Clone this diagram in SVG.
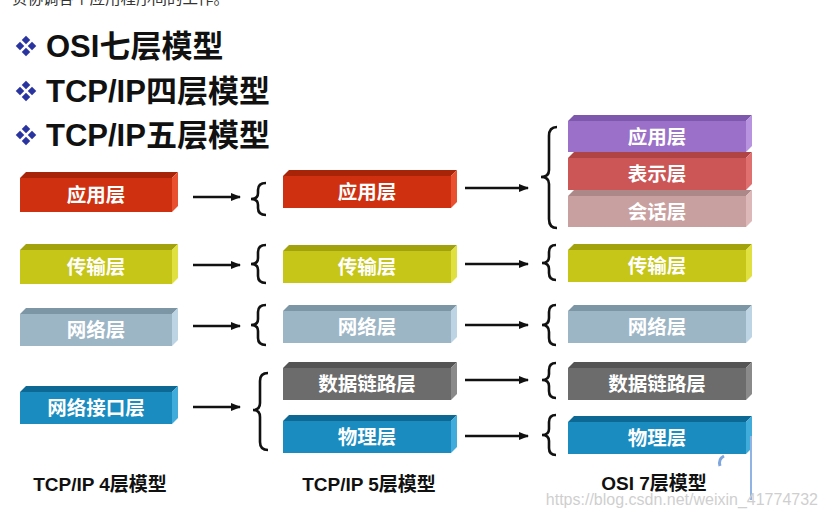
<svg xmlns="http://www.w3.org/2000/svg" width="826" height="518" viewBox="0 0 826 518">
<style>
.t{font-family:"Noto Sans CJK SC","Liberation Sans",sans-serif;font-weight:bold;fill:#fff;font-size:19.5px;text-anchor:middle}
.h{font-family:"Liberation Sans","Noto Sans CJK SC",sans-serif;font-weight:bold;fill:#111;font-size:31px}
.lb{font-family:"Liberation Sans","Noto Sans CJK SC",sans-serif;font-weight:bold;fill:#111;font-size:19px;text-anchor:middle}
.red .f{fill:#cf3010}.red .tp{fill:#a82408}.red .s{fill:#e85030}
.yel .f{fill:#c6c618}.yel .tp{fill:#a2a20c}.yel .s{fill:#e0e040}
.lbl .f{fill:#9db6c6}.lbl .tp{fill:#7d96a6}.lbl .s{fill:#bcd4e4}
.blu .f{fill:#1a8cc0}.blu .tp{fill:#0e6894}.blu .s{fill:#40acdc}
.gry .f{fill:#6c6c6c}.gry .tp{fill:#545454}.gry .s{fill:#8a8a8a}
.pur .f{fill:#9a70c8}.pur .tp{fill:#7e58ac}.pur .s{fill:#b894e0}
.rd2 .f{fill:#cc5656}.rd2 .tp{fill:#b04444}.rd2 .s{fill:#e07070}
.pnk .f{fill:#c8a0a0}.pnk .tp{fill:#ad8888}.pnk .s{fill:#dcb8b8}
.ar{stroke:#111;stroke-width:2.5;fill:none}
.br{stroke:#111;stroke-width:2.6;fill:none}
.dm{fill:#2a34a0}
</style>
<defs>
<marker id="ah" markerWidth="10" markerHeight="8" refX="9" refY="4" orient="auto" markerUnits="userSpaceOnUse">
<path d="M0,0 L10,4 L0,8 Z" fill="#111"/>
</marker>
<g id="bul">
<rect x="-3" y="-3" width="6" height="6" transform="translate(0,-6) rotate(45)"/>
<rect x="-3" y="-3" width="6" height="6" transform="translate(-6,0) rotate(45)"/>
<rect x="-3" y="-3" width="6" height="6" transform="translate(6,0) rotate(45)"/>
<rect x="-3" y="-3" width="6" height="6" transform="translate(0,6) rotate(45)"/>
</g>
</defs>
<rect width="826" height="518" fill="#fff"/>
<text x="12" y="4" font-family="Noto Sans CJK SC,sans-serif" font-size="15.5" fill="#333">负协调各个应用程序间的工作。</text>

<g id="titles">
<use href="#bul" x="26" y="46" class="dm"/>
<text x="46" y="57" class="h">OSI七层模型</text>
<use href="#bul" x="26" y="91" class="dm"/>
<text x="46" y="102" class="h">TCP/IP四层模型</text>
<use href="#bul" x="26" y="135" class="dm"/>
<text x="46" y="146" class="h">TCP/IP五层模型</text>
</g>

<!-- Column 1 -->
<g id="c1-app" class="red">
<polygon class="tp" points="20,178 26,172 178,172 172,178"/>
<rect class="f" x="20" y="178" width="152" height="34"/>
<polygon class="s" points="172,178 178,172 178,206 172,212"/>
<text class="t" x="96" y="202">应用层</text>
</g>
<g id="c1-trans" class="yel">
<polygon class="tp" points="20,250 26,244 178,244 172,250"/>
<rect class="f" x="20" y="250" width="152" height="34"/>
<polygon class="s" points="172,250 178,244 178,278 172,284"/>
<text class="t" x="96" y="274">传输层</text>
</g>
<g id="c1-net" class="lbl">
<polygon class="tp" points="20,314 26,308 178,308 172,314"/>
<rect class="f" x="20" y="314" width="152" height="32"/>
<polygon class="s" points="172,314 178,308 178,340 172,346"/>
<text class="t" x="96" y="337">网络层</text>
</g>
<g id="c1-link" class="blu">
<polygon class="tp" points="20,392 26,386 178,386 172,392"/>
<rect class="f" x="20" y="392" width="152" height="32"/>
<polygon class="s" points="172,392 178,386 178,418 172,424"/>
<text class="t" x="96" y="415">网络接口层</text>
</g>
<text class="lb" x="100" y="491">TCP/IP 4层模型</text>

<!-- Column 2 -->
<g id="c2-app" class="red">
<polygon class="tp" points="283,176 289,170 457,170 451,176"/>
<rect class="f" x="283" y="176" width="168" height="32"/>
<polygon class="s" points="451,176 457,170 457,202 451,208"/>
<text class="t" x="367" y="199">应用层</text>
</g>
<g id="c2-trans" class="yel">
<polygon class="tp" points="283,251 289,245 457,245 451,251"/>
<rect class="f" x="283" y="251" width="168" height="32"/>
<polygon class="s" points="451,251 457,245 457,277 451,283"/>
<text class="t" x="367" y="274">传输层</text>
</g>
<g id="c2-net" class="lbl">
<polygon class="tp" points="283,311 289,305 457,305 451,311"/>
<rect class="f" x="283" y="311" width="168" height="32"/>
<polygon class="s" points="451,311 457,305 457,337 451,343"/>
<text class="t" x="367" y="334">网络层</text>
</g>
<g id="c2-dl" class="gry">
<polygon class="tp" points="283,368 289,362 457,362 451,368"/>
<rect class="f" x="283" y="368" width="168" height="32"/>
<polygon class="s" points="451,368 457,362 457,394 451,400"/>
<text class="t" x="367" y="391">数据链路层</text>
</g>
<g id="c2-phy" class="blu">
<polygon class="tp" points="283,421 289,415 457,415 451,421"/>
<rect class="f" x="283" y="421" width="168" height="32"/>
<polygon class="s" points="451,421 457,415 457,447 451,453"/>
<text class="t" x="367" y="444">物理层</text>
</g>
<text class="lb" x="369" y="491">TCP/IP 5层模型</text>

<!-- Column 3 -->
<g id="c3-app" class="pur">
<polygon class="tp" points="568,121 574,115 752,115 746,121"/>
<rect class="f" x="568" y="121" width="178" height="31"/>
<polygon class="s" points="746,121 752,115 752,146 746,152"/>
<text class="t" x="657" y="144">应用层</text>
</g>
<g id="c3-pres" class="rd2">
<polygon class="tp" points="568,158 574,152 752,152 746,158"/>
<rect class="f" x="568" y="158" width="178" height="32"/>
<polygon class="s" points="746,158 752,152 752,184 746,190"/>
<text class="t" x="657" y="181">表示层</text>
</g>
<g id="c3-sess" class="pnk">
<polygon class="tp" points="568,196 574,190 752,190 746,196"/>
<rect class="f" x="568" y="196" width="178" height="31"/>
<polygon class="s" points="746,196 752,190 752,221 746,227"/>
<text class="t" x="657" y="219">会话层</text>
</g>
<g id="c3-trans" class="yel">
<polygon class="tp" points="568,250 574,244 752,244 746,250"/>
<rect class="f" x="568" y="250" width="178" height="32"/>
<polygon class="s" points="746,250 752,244 752,276 746,282"/>
<text class="t" x="657" y="273">传输层</text>
</g>
<g id="c3-net" class="lbl">
<polygon class="tp" points="568,311 574,305 752,305 746,311"/>
<rect class="f" x="568" y="311" width="178" height="32"/>
<polygon class="s" points="746,311 752,305 752,337 746,343"/>
<text class="t" x="657" y="334">网络层</text>
</g>
<g id="c3-dl" class="gry">
<polygon class="tp" points="568,368 574,362 752,362 746,368"/>
<rect class="f" x="568" y="368" width="178" height="32"/>
<polygon class="s" points="746,368 752,362 752,394 746,400"/>
<text class="t" x="657" y="391">数据链路层</text>
</g>
<g id="c3-phy" class="blu">
<polygon class="tp" points="568,422 574,416 752,416 746,422"/>
<rect class="f" x="568" y="422" width="178" height="32"/>
<polygon class="s" points="746,422 752,416 752,448 746,454"/>
<text class="t" x="657" y="445">物理层</text>
</g>
<text class="lb" x="654" y="490">OSI 7层模型</text>

<g id="connectors">
<line class="ar" x1="193" y1="197" x2="240" y2="197" marker-end="url(#ah)"/>
<line class="ar" x1="193" y1="265" x2="240" y2="265" marker-end="url(#ah)"/>
<line class="ar" x1="193" y1="326" x2="240" y2="326" marker-end="url(#ah)"/>
<line class="ar" x1="193" y1="407" x2="240" y2="407" marker-end="url(#ah)"/>
<line class="ar" x1="465" y1="188" x2="528" y2="188" marker-end="url(#ah)"/>
<line class="ar" x1="465" y1="264" x2="528" y2="264" marker-end="url(#ah)"/>
<line class="ar" x1="465" y1="325" x2="528" y2="325" marker-end="url(#ah)"/>
<line class="ar" x1="465" y1="380" x2="528" y2="380" marker-end="url(#ah)"/>
<line class="ar" x1="465" y1="436" x2="528" y2="436" marker-end="url(#ah)"/>
<!-- braces col1 -->
<path class="br" d="M266,183 Q258,183 258,190 L258,193 Q258,199 251,199 Q258,199 258,205 L258,208 Q258,215 266,215"/>
<path class="br" d="M266,245 Q258,245 258,252 L258,258 Q258,264 251,264 Q258,264 258,270 L258,276 Q258,283 266,283"/>
<path class="br" d="M266,305 Q258,305 258,312 L258,319 Q258,325 251,325 Q258,325 258,331 L258,338 Q258,345 266,345"/>
<path class="br" d="M268,373 Q260,373 260,381 L260,403 Q260,410 253,410 Q260,410 260,417 L260,442 Q260,450 268,450"/>
<!-- braces col2 -->
<path class="br" d="M557,127 Q549,127 549,136 L549,170 Q549,177 541,177 Q549,177 549,184 L549,219 Q549,228 557,228"/>
<path class="br" d="M556,245 Q549,245 549,252 L549,257 Q549,263 542,263 Q549,263 549,269 L549,273 Q549,280 556,280"/>
<path class="br" d="M556,305 Q549,305 549,312 L549,318 Q549,325 542,325 Q549,325 549,332 L549,338 Q549,345 556,345"/>
<path class="br" d="M556,363 Q549,363 549,370 L549,374 Q549,380 542,380 Q549,380 549,386 L549,391 Q549,398 556,398"/>
<path class="br" d="M556,415 Q549,415 549,422 L549,429 Q549,435 542,435 Q549,435 549,441 L549,448 Q549,455 556,455"/>
</g>

<path d="M751,436 L751,500" stroke="#8fb4e4" stroke-width="2" fill="none"/>
<path d="M724,456 Q718,459 720,466" stroke="#7ea6dc" stroke-width="3" fill="none"/>
<text x="818" y="505" text-anchor="end" font-family="Liberation Sans,sans-serif" font-size="16" fill="#cfcfcf">https://blog.csdn.net/weixin_41774732</text>
</svg>
